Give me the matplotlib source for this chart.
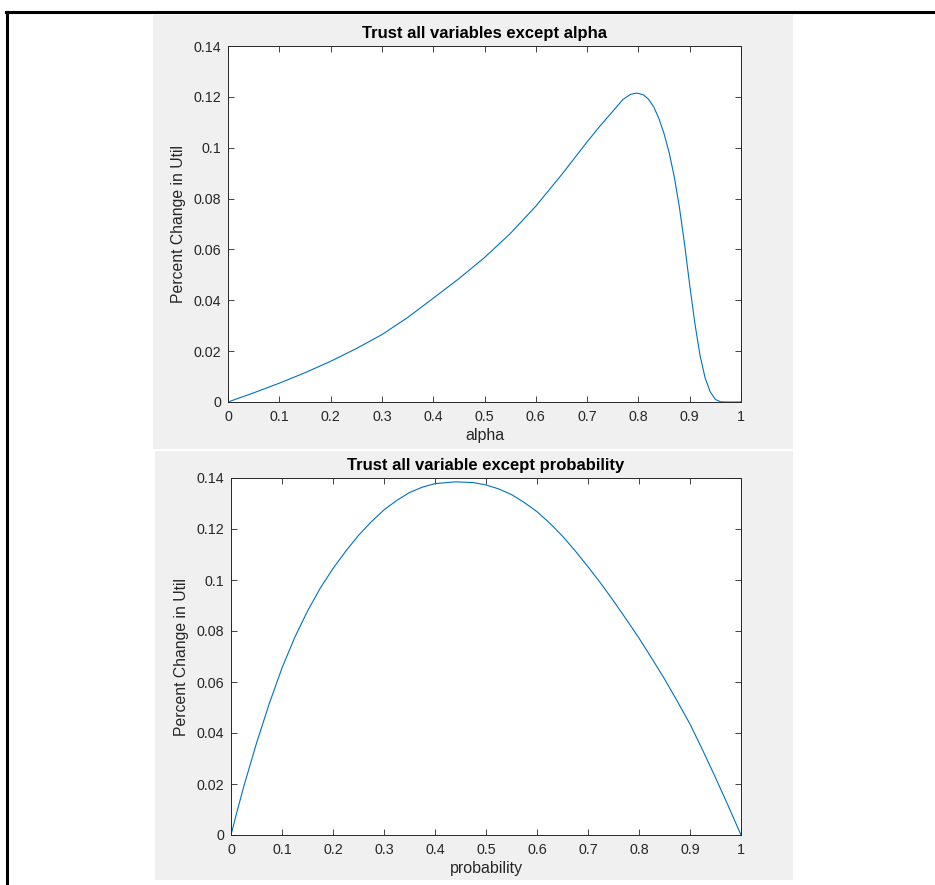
import matplotlib
matplotlib.use("Agg")
import matplotlib.pyplot as plt
from matplotlib.patches import Rectangle
from matplotlib.lines import Line2D

plt.rcParams['font.family'] = ['Liberation Sans', 'DejaVu Sans']

# Top panel: change vs alpha
alpha_x = [0, 0.025, 0.05, 0.1, 0.15, 0.2, 0.25, 0.3, 0.35, 0.4, 0.45, 0.5, 0.55,
           0.6, 0.65, 0.7, 0.725, 0.75, 0.77, 0.785, 0.797, 0.81, 0.82, 0.83, 0.84,
           0.85, 0.86, 0.87, 0.88, 0.89, 0.9, 0.91, 0.92, 0.93, 0.94, 0.95, 0.96,
           0.97, 1.0]
alpha_y = [0, 0.0018, 0.0036, 0.0074, 0.0115, 0.016, 0.021, 0.0265, 0.0332, 0.0408,
           0.0485, 0.0568, 0.0662, 0.0770, 0.0893, 0.1023, 0.1085, 0.1143, 0.1190,
           0.1210, 0.1215, 0.1208, 0.1190, 0.1160, 0.1115, 0.1055, 0.0980, 0.0885,
           0.0765, 0.0620, 0.0460, 0.0310, 0.0185, 0.0095, 0.0040, 0.0010, 0.0001,
           0.0, 0.0]

# Bottom panel: change vs probability
prob_x = [0, 0.01, 0.025, 0.05, 0.075, 0.1, 0.125, 0.15, 0.175, 0.2, 0.225, 0.25,
          0.275, 0.3, 0.325, 0.35, 0.375, 0.4, 0.44, 0.475, 0.5, 0.525, 0.55, 0.575,
          0.6, 0.625, 0.65, 0.675, 0.7, 0.725, 0.75, 0.775, 0.8, 0.825, 0.85, 0.875,
          0.9, 0.925, 0.95, 0.975, 1.0]
prob_y = [0, 0.0078, 0.019, 0.036, 0.0515, 0.0655, 0.0775, 0.0878, 0.0968, 0.1045,
          0.1113, 0.1175, 0.1228, 0.1275, 0.1312, 0.1343, 0.1364, 0.1378, 0.1385,
          0.1382, 0.1373, 0.1357, 0.1335, 0.1304, 0.1268, 0.1223, 0.1172, 0.1114,
          0.1052, 0.0987, 0.0918, 0.0846, 0.0772, 0.0693, 0.0612, 0.0525, 0.0435,
          0.0332, 0.0225, 0.0114, 0.0]

xticks = [0, 0.1, 0.2, 0.3, 0.4, 0.5, 0.6, 0.7, 0.8, 0.9, 1]
xticklabels = ['0', '0.1', '0.2', '0.3', '0.4', '0.5', '0.6', '0.7', '0.8', '0.9', '1']
yticks = [0, 0.02, 0.04, 0.06, 0.08, 0.1, 0.12, 0.14]
yticklabels = ['0', '0.02', '0.04', '0.06', '0.08', '0.1', '0.12', '0.14']

titles = ['Trust all variables except alpha', 'Trust all variable except probability']
xlabels = ['alpha', 'probability']
ylabel = 'Percent Change in Util'

W, H = 935, 885
fig = plt.figure(figsize=(W / 100, H / 100), dpi=100)
fig.patch.set_facecolor('white')

def fx(px):
    return px / W

def fy(py):
    return 1 - py / H

# gray panels (MATLAB figure backgrounds)
fig.patches.append(Rectangle((fx(153), fy(449)), fx(793) - fx(153), fy(15) - fy(449),
                             transform=fig.transFigure, facecolor='#f0f0f0', edgecolor='none', zorder=-10))
fig.patches.append(Rectangle((fx(155), fy(880)), fx(793) - fx(155), fy(451) - fy(880),
                             transform=fig.transFigure, facecolor='#f0f0f0', edgecolor='none', zorder=-10))

# frame lines
fig.lines.append(Line2D([fx(6), 1.0], [fy(12), fy(12)], transform=fig.transFigure,
                        color='black', linewidth=2.2, zorder=-5))
fig.lines.append(Line2D([fx(7), fx(7)], [fy(12), 0.0], transform=fig.transFigure,
                        color='black', linewidth=2.2, zorder=-5))

axes_px = [(228, 46, 741, 402), (231, 478, 741, 835)]
data = [(alpha_x, alpha_y), (prob_x, prob_y)]
tc = '#262626'

for i, (l, t, r, b) in enumerate(axes_px):
    ax = fig.add_axes([fx(l), fy(b), fx(r) - fx(l), fy(t) - fy(b)])
    ax.set_zorder(1)
    ax.set_facecolor('white')
    x, y = data[i]
    ax.plot(x, y, color='#0072BD', linewidth=0.8)
    ax.set_xlim(0, 1)
    ax.set_ylim(0, 0.14)
    ax.set_xticks(xticks)
    ax.set_xticklabels(xticklabels)
    ax.set_yticks(yticks)
    ax.set_yticklabels(yticklabels)
    ax.tick_params(direction='in', length=4, width=0.6, colors=tc, labelsize=10.3,
                   top=True, right=True)
    ax.tick_params(axis='x', pad=6)
    ax.tick_params(axis='y', pad=5)
    for s in ax.spines.values():
        s.set_color(tc)
        s.set_linewidth(0.7)
    ax.set_title(titles[i], fontsize=12, fontweight='bold', color='black', pad=6)
    ax.set_xlabel(xlabels[i], fontsize=11.5, color=tc, labelpad=3)
    ax.set_ylabel(ylabel, fontsize=11.3, color=tc, labelpad=5)

fig.savefig('out.png', dpi=100, facecolor='white')
